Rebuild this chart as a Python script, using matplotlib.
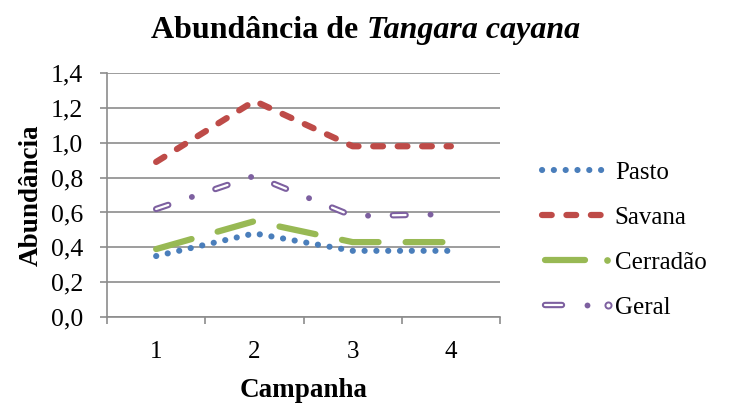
import matplotlib
matplotlib.use("Agg")
import matplotlib.pyplot as plt
from matplotlib.lines import Line2D
from matplotlib.legend_handler import HandlerBase

plt.rcParams["font.family"] = ["Liberation Serif", "DejaVu Serif"]
plt.rcParams["lines.scale_dashes"] = False

campanhas = [1, 2, 3, 4]
pasto = [0.35, 0.48, 0.38, 0.38]
savana = [0.89, 1.24, 0.98, 0.98]
cerradao = [0.39, 0.55, 0.43, 0.43]
geral = [0.62, 0.81, 0.58, 0.59]
y_ticks = [0.0, 0.2, 0.4, 0.6, 0.8, 1.0, 1.2, 1.4]

BLUE = "#4A7EBB"
RED = "#BE4B48"
GREEN = "#98B954"
PURPLE = "#7D60A0"
GRID = "#8C8C8C"


class GlyphHandler(HandlerBase):
    """Legend key built from pieces (start, end, style) in handle-width fractions.
    A piece with start == end is drawn as a round dot."""

    def __init__(self, pieces):
        super().__init__()
        self.pieces = pieces

    def create_artists(self, legend, orig_handle, xdescent, ydescent, width, height, fontsize, trans):
        y = height / 2 - ydescent
        out = []
        for a, b, kw in self.pieces:
            xa, xb = a * width - xdescent, b * width - xdescent
            if a == b:
                ln = Line2D([xa], [y], ls="none", marker="o", transform=trans, **kw)
            else:
                ln = Line2D([xa, xb], [y, y], solid_capstyle="round", transform=trans, **kw)
            out.append(ln)
        return out


fig = plt.figure(figsize=(7.31, 4.07), dpi=100)
ax = fig.add_axes([0.1464, 0.221, 0.5376, 0.5995])

h_pasto, = ax.plot(campanhas, pasto, color=BLUE, lw=4.4, ls=(0, (0.1, 8.4)),
                   dash_capstyle="round", zorder=3)
h_savana, = ax.plot(campanhas, savana, color=RED, lw=4.5, ls=(0, (7.0, 10.6)),
                    dash_capstyle="round", zorder=3)
h_cerr, = ax.plot(campanhas, cerradao, color=GREEN, lw=4.5, ls=(0, (26.5, 19.5)),
                  dash_capstyle="round", zorder=3)
h_geral, = ax.plot(campanhas, geral, color=PURPLE, lw=4.6, ls=(0, (9.2, 35.8)),
                   dash_capstyle="round", zorder=3)
ax.plot(campanhas, geral, color="white", lw=1.6, ls=(0, (9.2, 35.8)),
        dash_capstyle="round", zorder=4)
ax.plot(campanhas, geral, color=PURPLE, lw=4.2, ls=(17.9, (0.1, 44.9)),
        dash_capstyle="round", zorder=4)

ax.set_xlim(0.5, 4.5)
ax.set_ylim(0, 1.4)
ax.set_yticks(y_ticks)
ax.set_yticklabels([f"{v:.1f}".replace(".", ",") for v in y_ticks])
ax.set_xticks(campanhas)
ax.set_xticks([0.5, 1.5, 2.5, 3.5, 4.5], minor=True)
ax.tick_params(axis="x", which="major", length=0, labelsize=18, pad=17)
ax.tick_params(axis="x", which="minor", length=5, color=GRID, width=1.2)
ax.tick_params(axis="y", length=5, color=GRID, width=1.2, labelsize=18.5, pad=12)
ax.yaxis.grid(True, color=GRID, lw=1.2)
ax.set_axisbelow(True)
for s in ["top", "right"]:
    ax.spines[s].set_visible(False)
for s in ["left", "bottom"]:
    ax.spines[s].set_color(GRID)
    ax.spines[s].set_linewidth(1.2)

ax.set_xlabel("Campanha", fontsize=19.5, fontweight="bold", labelpad=11)
ax.set_ylabel("Abundância", fontsize=19.5, fontweight="bold", labelpad=5)

cerr_key = GlyphHandler([
    (0.04, 0.66, dict(color=GREEN, lw=4.5)),
    (0.99, 0.99, dict(color=GREEN, markersize=4.8, markeredgewidth=0)),
])
geral_key = GlyphHandler([
    (0.05, 0.30, dict(color=PURPLE, lw=4.6)),
    (0.05, 0.30, dict(color="white", lw=1.6)),
    (0.69, 0.69, dict(color=PURPLE, markersize=4.2, markeredgewidth=0)),
    (1.01, 1.01, dict(markerfacecolor="white", markeredgecolor=PURPLE,
                      markersize=4.4, markeredgewidth=1.4)),
])

fig.legend([h_pasto, h_savana, h_cerr, h_geral],
           ["Pasto", "Savana", "Cerradão", "Geral"],
           handler_map={h_cerr: cerr_key, h_geral: geral_key},
           loc="center left", bbox_to_anchor=(0.711, 0.41), frameon=False,
           fontsize=18, handlelength=2.6, handletextpad=0.3, labelspacing=0.9)

# title: bold part + bold italic species name, centred together
fig.canvas.draw()
renderer = fig.canvas.get_renderer()
t1 = fig.text(0, 0.925, "Abundância de ", fontsize=23, fontweight="bold", va="center")
t2 = fig.text(0, 0.925, "Tangara cayana", fontsize=23, fontweight="bold",
              style="italic", va="center")
w1 = t1.get_window_extent(renderer).width
w2 = t2.get_window_extent(renderer).width
W = fig.bbox.width
x0 = (W - (w1 + w2)) / 2 / W
t1.set_x(x0)
t2.set_x(x0 + w1 / W)

fig.savefig("out.png", dpi=100)
